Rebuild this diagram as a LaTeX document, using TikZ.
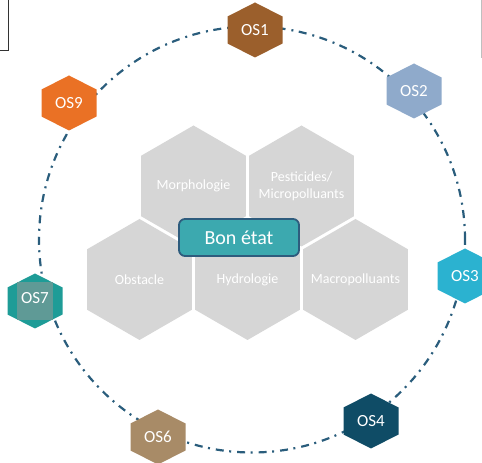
\documentclass[tikz,border=0pt]{standalone}
\usepackage{fontspec}
\setmainfont{Carlito}
\usetikzlibrary{calc}

\definecolor{ringblue}{HTML}{2A5D7C}
\definecolor{fieldgray}{HTML}{D6D6D6}
\definecolor{goalteal}{HTML}{3CA9AF}
\definecolor{goalborder}{HTML}{2E5C7D}
\definecolor{osbrown}{HTML}{9B5F2C}
\definecolor{osgrayblue}{HTML}{8FAACB}
\definecolor{oscyan}{HTML}{2BB2D0}
\definecolor{osnavy}{HTML}{0F4C66}
\definecolor{ostan}{HTML}{A88B67}
\definecolor{osteal}{HTML}{1E9C97}
\definecolor{osteallight}{HTML}{5F9A96}
\definecolor{osorange}{HTML}{EA7125}

\tikzset{
  ring/.style={draw=ringblue, line width=2.2pt, dash pattern=on 8pt off 5.5pt on 2pt off 6pt},
  oslabel/.style={text=white, font=\fontsize{17}{17}\selectfont},
  fieldlabel/.style={text=white, font=\fontsize{14}{17}\selectfont, align=center},
  goalbox/.style={draw=goalborder, fill=goalteal, line width=1.8pt, rounded corners=6pt,
    minimum width=120pt, minimum height=37pt, text=white, font=\fontsize{20}{20}\selectfont}
}

\begin{document}
\begin{tikzpicture}[x=1pt, y=1pt]
    \useasboundingbox (0,0) rectangle (482,463);

    % frame corners
    \draw [line width=1.8pt, black!80] (0,412.5) -- (8.5,412.5) -- (8.5,463);
    \draw [line width=0.8pt, black!25] (481.5,463) -- (481.5,405);

    % dashed ring
    \draw [ring] (252,223.5) circle (213);

    % honeycomb of pressures
    \foreach \name/\x/\y/\txt in {morph/193.5/277/Morphologie, pest/301.5/277/{Pesticides/\\Micropolluants},
        obst/139.5/183.5/Obstacle, hydro/247.5/183.5/Hydrologie, macro/355.5/183.5/Macropolluants} {
        \fill [fieldgray] (\x,\y) +(90:60.5) -- +(150:60.5) -- +(210:60.5) -- +(270:60.5) -- +(330:60.5) -- +(30:60.5) -- cycle;
        \node [fieldlabel] (\name) at (\x,\y) {\txt};
    }

    \node [goalbox] (goal) at (239,225.5) {Bon état};

    % objectives around the ring
    \foreach \name/\x/\y/\col in {OS1/255/433/osbrown, OS2/414/372/osgrayblue, OS3/465/187/oscyan,
        OS4/371/42/osnavy, OS6/158/26/ostan, OS9/69/360/osorange} {
        \fill [\col] (\x,\y) +(0,27.5) -- +(-27.5,13.5) -- +(-27.5,-13.5) -- +(0,-27.5) -- +(27.5,-13.5) -- +(27.5,13.5) -- cycle;
        \node [oslabel] (\name) at (\x,\y) {\name};
    }

    \fill [osteal] (35,162) +(0,27.5) -- +(-27.5,13.5) -- +(-27.5,-13.5) -- +(0,-27.5) -- +(27.5,-13.5) -- +(27.5,13.5) -- cycle;
    \fill [osteallight] (17,143) rectangle (53,181);
    \node [oslabel] (OS7) at (35,165) {OS7};

\end{tikzpicture}
\end{document}
